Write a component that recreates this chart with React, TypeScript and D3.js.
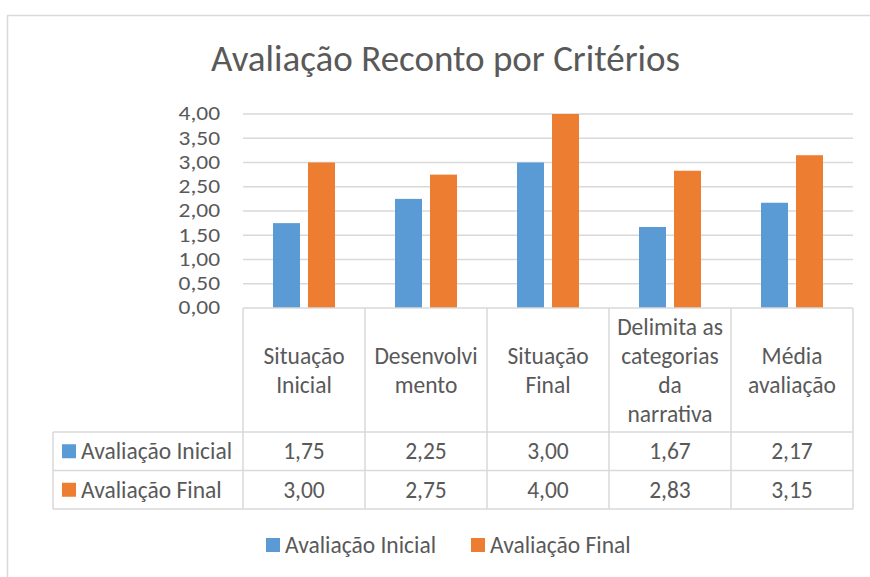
import React from "react";
import * as d3 from "d3";

const categories = ["Situação Inicial", "Desenvolvimento", "Situação Final", "Delimita as categorias da narrativa", "Média avaliação"];
const categoryLines = [["Situação", "Inicial"], ["Desenvolvi", "mento"], ["Situação", "Final"], ["Delimita as", "categorias", "da", "narrativa"], ["Média", "avaliação"]];
const seriesNames = ["Avaliação Inicial", "Avaliação Final"];
const avaliacaoInicial = [1.75, 2.25, 3.0, 1.67, 2.17];
const avaliacaoFinal = [3.0, 2.75, 4.0, 2.83, 3.15];
const yTicks = [0, 0.5, 1, 1.5, 2, 2.5, 3, 3.5, 4];
const colors = ["#5B9BD5", "#ED7D31"];

const FONT = "Carlito, 'Liberation Sans Narrow', 'Open Sans', 'Noto Sans', sans-serif";
const TEXT = "#595959";
const GRID = "#D9D9D9";
const FS = 23.5;

export default function App() {
  const left = 243, right = 853, top = 114, bottom = 308;
  const x = d3.scaleBand<string>().domain(categories).range([left, right]).padding(0);
  const y = d3.scaleLinear().domain([0, 4]).range([bottom, top]);
  const series = [avaliacaoInicial, avaliacaoFinal];
  const fmt = (v: number) => v.toFixed(2).replace(".", ",");

  const headerBottom = 432;
  const row1Bottom = 470.5;
  const row2Bottom = 509;
  const tableLeft = 53;
  const rowYs = [(headerBottom + row1Bottom) / 2, (row1Bottom + row2Bottom) / 2];
  const lineH = 29;
  const headerCenter = (bottom + headerBottom) / 2;

  return (
    <svg width={870} height={577} style={{ position: "absolute", left: 0, top: 0, background: "#fff" }} fontFamily={FONT}>
      <rect x={7.5} y={15.5} width={900} height={600} fill="#fff" stroke={GRID} strokeWidth={1.5} />
      <text x={445.5} y={71} textAnchor="middle" fontSize={37} fill={TEXT} fontWeight={300}>
        Avaliação Reconto por Critérios
      </text>
      {yTicks.map((t) => (
        <g key={t}>
          {t > 0 && <line x1={left} x2={right} y1={y(t)} y2={y(t)} stroke={GRID} strokeWidth={1.5} />}
          <text transform={`translate(220,${y(t)}) scale(1.2,1)`} x={0} y={0} textAnchor="end" dominantBaseline="central" fontSize={19.5} fill={TEXT}>
            {fmt(t)}
          </text>
        </g>
      ))}
      {categories.map((c, i) => {
        const cx = (x(c) as number) + x.bandwidth() / 2;
        const x1 = d3.scaleBand<string>().domain(seriesNames).range([cx - 31, cx + 31]).paddingInner(0.229);
        return (
          <g key={c}>
            {series.map((s, j) => (
              <rect key={j} x={x1(seriesNames[j])} y={y(s[i])} width={x1.bandwidth()} height={y(0) - y(s[i])} fill={colors[j]} />
            ))}
          </g>
        );
      })}
      {/* table lines */}
      <line x1={left} x2={right} y1={bottom} y2={bottom} stroke={GRID} strokeWidth={1.5} />
      {[headerBottom, row1Bottom, row2Bottom].map((yy) => (
        <line key={yy} x1={tableLeft} x2={right} y1={yy} y2={yy} stroke={GRID} strokeWidth={1.5} />
      ))}
      <line x1={tableLeft} x2={tableLeft} y1={headerBottom} y2={row2Bottom} stroke={GRID} strokeWidth={1.5} />
      {categories.map((c) => (
        <line key={c} x1={x(c)} x2={x(c)} y1={bottom} y2={row2Bottom} stroke={GRID} strokeWidth={1.5} />
      ))}
      <line x1={right} x2={right} y1={bottom} y2={row2Bottom} stroke={GRID} strokeWidth={1.5} />
      {categories.map((c, i) => {
        const cx = (x(c) as number) + x.bandwidth() / 2;
        const lines = categoryLines[i];
        const start = headerCenter - ((lines.length - 1) * lineH) / 2;
        return (
          <g key={c}>
            {lines.map((l, k) => (
              <text key={k} x={cx} y={start + k * lineH} textAnchor="middle" dominantBaseline="central" fontSize={FS} fill={TEXT}>
                {l}
              </text>
            ))}
            {series.map((s, j) => (
              <text key={j} x={cx} y={rowYs[j]} textAnchor="middle" dominantBaseline="central" fontSize={FS} fill={TEXT}>
                {fmt(s[i])}
              </text>
            ))}
          </g>
        );
      })}
      {seriesNames.map((n, j) => (
        <g key={n}>
          <rect x={62} y={rowYs[j] - 7} width={14} height={14} fill={colors[j]} />
          <text x={81} y={rowYs[j]} dominantBaseline="central" fontSize={FS} fill={TEXT}>
            {n}
          </text>
        </g>
      ))}
      {/* legend */}
      {seriesNames.map((n, j) => {
        const lx = [266, 471][j];
        return (
          <g key={n}>
            <rect x={lx} y={538} width={14} height={14} fill={colors[j]} />
            <text x={lx + 19} y={545} dominantBaseline="central" fontSize={FS} fill={TEXT}>
              {n}
            </text>
          </g>
        );
      })}
    </svg>
  );
}
